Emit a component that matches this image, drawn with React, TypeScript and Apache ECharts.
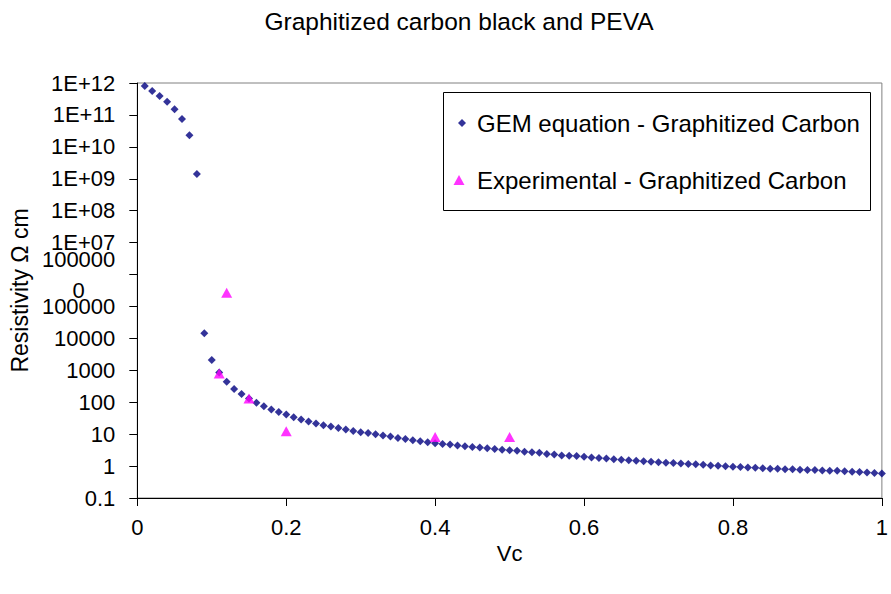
import React, { useEffect, useRef } from 'react';
import * as echarts from 'echarts';

const chartTitle = 'Graphitized carbon black and PEVA';
const xAxisTitle = 'Vc';
const yAxisTitle = 'Resistivity Ω cm';
const gemName = 'GEM equation - Graphitized Carbon';
const expName = 'Experimental - Graphitized Carbon';

const gemVc = [
  0.01, 0.02, 0.03, 0.04, 0.05, 0.06, 0.07, 0.08, 0.09, 0.1,
  0.11, 0.12, 0.13, 0.14, 0.15, 0.16, 0.17, 0.18, 0.19, 0.2,
  0.21, 0.22, 0.23, 0.24, 0.25, 0.26, 0.27, 0.28, 0.29, 0.3,
  0.31, 0.32, 0.33, 0.34, 0.35, 0.36, 0.37, 0.38, 0.39, 0.4,
  0.41, 0.42, 0.43, 0.44, 0.45, 0.46, 0.47, 0.48, 0.49, 0.5,
  0.51, 0.52, 0.53, 0.54, 0.55, 0.56, 0.57, 0.58, 0.59, 0.6,
  0.61, 0.62, 0.63, 0.64, 0.65, 0.66, 0.67, 0.68, 0.69, 0.7,
  0.71, 0.72, 0.73, 0.74, 0.75, 0.76, 0.77, 0.78, 0.79, 0.8,
  0.81, 0.82, 0.83, 0.84, 0.85, 0.86, 0.87, 0.88, 0.89, 0.9,
  0.91, 0.92, 0.93, 0.94, 0.95, 0.96, 0.97, 0.98, 0.99, 1.0,
];
const gemResistivity = [
  8e11, 5.6e11, 3.9e11, 2.6e11, 1.5e11, 7.4e10, 2.3e10, 1.4e9, 14500, 2100,
  850, 440, 260, 180, 130, 96, 75, 59, 49, 41,
  34, 29, 25, 21.5, 19, 17.5, 15.5, 14, 12.5, 11.5,
  10.8, 10, 9, 8.4, 7.6, 7, 6.5, 6, 5.6, 5.2,
  4.9, 4.7, 4.4, 4.2, 3.95, 3.8, 3.6, 3.45, 3.25, 3.15,
  3.0, 2.8, 2.7, 2.6, 2.4, 2.3, 2.15, 2.1, 2.05, 1.97,
  1.87, 1.8, 1.72, 1.63, 1.58, 1.53, 1.48, 1.42, 1.37, 1.32,
  1.27, 1.24, 1.2, 1.17, 1.14, 1.1, 1.05, 1.02, 0.98, 0.95,
  0.93, 0.91, 0.88, 0.86, 0.83, 0.82, 0.8, 0.79, 0.77, 0.76,
  0.75, 0.73, 0.72, 0.71, 0.69, 0.67, 0.65, 0.63, 0.61, 0.59,
];

const expVc = [0.11, 0.12, 0.15, 0.2, 0.4, 0.5];
const expResistivity = [800, 270000, 130, 12.4, 8.2, 8.2];

const xTickLabels = ['0', '0.2', '0.4', '0.6', '0.8', '1'];
const yTickLabels = [
  '0.1', '1', '10', '100', '1000', '10000', '100000', '100000\n0',
  '1E+07', '1E+08', '1E+09', '1E+10', '1E+11', '1E+12',
];

const FONT = '"Liberation Sans", Arial, sans-serif';

export default function App() {
  const ref = useRef<HTMLDivElement>(null);

  useEffect(() => {
    if (!ref.current) return;
    const chart = echarts.init(ref.current, null, { renderer: 'svg' });

    const gemData = gemVc.map((v, i) => [v, gemResistivity[i]]);
    const expData = expVc.map((v, i) => [v, expResistivity[i]]);

    chart.setOption({
      animation: false,
      backgroundColor: '#ffffff',
      title: {
        text: chartTitle,
        left: 454,
        textAlign: 'center',
        top: 4,
        textStyle: { fontFamily: FONT, fontSize: 24.5, fontWeight: 'normal', color: '#000' },
      },
      grid: {
        left: 135,
        right: 7,
        top: 83,
        bottom: 96,
        show: true,
        borderColor: '#808080',
        borderWidth: 1,
        backgroundColor: 'transparent',
        containLabel: false,
      },
      legend: {
        orient: 'vertical',
        left: 452,
        top: 110,
        padding: 0,
        itemWidth: 20,
        itemHeight: 20,
        itemGap: 31,
        textStyle: { fontFamily: FONT, fontSize: 24, color: '#000', lineHeight: 26 },
        data: [
          { name: gemName, icon: 'path://M0,0M20,20M10,6L14,10L10,14L6,10Z' },
          { name: expName, icon: 'path://M0,0M20,20M7,5L12.5,15L1.5,15Z' },
        ],
      },
      graphic: [
        {
          type: 'rect',
          z: 1,
          shape: { x: 443.5, y: 92.5, width: 427, height: 118 },
          style: { fill: '#ffffff', stroke: '#000000', lineWidth: 1 },
        },
      ],
      xAxis: {
        type: 'value',
        min: 0,
        max: 1,
        interval: 0.2,
        name: xAxisTitle,
        nameLocation: 'middle',
        nameGap: 38,
        nameTextStyle: { fontFamily: FONT, fontSize: 22, color: '#000' },
        axisLine: { show: true, onZero: false, lineStyle: { color: '#000', width: 1 } },
        axisTick: { show: true, length: 8, lineStyle: { color: '#000' } },
        splitLine: { show: false },
        axisLabel: {
          margin: 18,
          fontFamily: FONT,
          fontSize: 22,
          color: '#000',
          showMinLabel: true,
          showMaxLabel: true,
          formatter: (v: number) => xTickLabels[Math.round(v / 0.2)] ?? '',
        },
      },
      yAxis: {
        type: 'log',
        logBase: 10,
        min: 0.1,
        max: 1e12,
        interval: 1,
        name: yAxisTitle,
        nameLocation: 'middle',
        nameGap: 96,
        nameRotate: 90,
        nameTextStyle: { fontFamily: FONT, fontSize: 23, color: '#000' },
        axisLine: { show: true, onZero: false, lineStyle: { color: '#000', width: 1 } },
        axisTick: { show: true, length: 8, lineStyle: { color: '#000' } },
        splitLine: { show: false },
        minorTick: { show: false },
        axisLabel: {
          margin: 22,
          fontFamily: FONT,
          fontSize: 22,
          color: '#000',
          lineHeight: 22,
          showMinLabel: true,
          showMaxLabel: true,
          formatter: (v: number) => {
            const idx = Math.round(Math.log10(v)) + 1;
            const label = yTickLabels[idx] ?? '';
            if (label.includes('\n')) {
              return label
                .split('\n')
                .map((s) => `{c|${s}}`)
                .join('\n');
            }
            return label;
          },
          rich: {
            c: {
              align: 'center',
              fontFamily: FONT,
              fontSize: 22,
              color: '#000',
              lineHeight: 31,
            },
          },
        },
      },
      series: [
        {
          name: gemName,
          type: 'scatter',
          symbol: 'diamond',
          symbolSize: 8,
          itemStyle: { color: '#000080' },
          data: gemData,
          z: 2,
        },
        {
          name: expName,
          type: 'scatter',
          symbol: 'triangle',
          symbolSize: [11, 10],
          itemStyle: { color: '#FF00FF' },
          data: expData,
          z: 3,
        },
      ],
    });

    return () => {
      chart.dispose();
    };
  }, []);

  return (
    <div
      ref={ref}
      style={{ position: 'fixed', left: 0, top: 0, width: 891, height: 594, background: '#fff' }}
    />
  );
}
